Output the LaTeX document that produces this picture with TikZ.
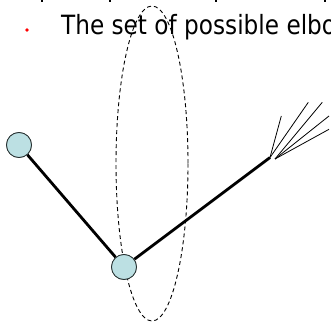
\documentclass[tikz,border=0pt]{standalone}
\usepackage{fontspec}
\setmainfont{DejaVu Sans}
\definecolor{jointfill}{RGB}{188,224,227}
\definecolor{jointedge}{RGB}{40,50,50}
\begin{document}
\begin{tikzpicture}[x=1pt,y=-1pt,
  joint/.style={circle,draw=jointedge,line width=0.8pt,fill=jointfill,minimum size=25pt,inner sep=0pt},
  limb/.style={line width=2.8pt,black},
  finger/.style={line width=0.8pt,black},
  reach/.style={line width=0.9pt,dash pattern=on 4pt off 3pt,black}]
\useasboundingbox (0,0) rectangle (331,323);
\clip (0,0) rectangle (331,323);
% descenders of the line above
\foreach \px in {42,110,216,325}
  \fill (\px-0.8,0) rectangle (\px+0.8,2.2);
% bullet and text
\fill[red] (27,30) circle (1.8);
\node[anchor=base west,inner sep=0pt,xscale=0.875,font=\fontsize{26.5}{30}\selectfont] (txt) at (61,35) {The set of possible elbow};
% set of reachable elbow positions
\draw[reach] (152,163.5) ellipse [x radius=36, y radius=157.5];
% arm
\node[joint] (shoulder) at (19,145) {};
\node[joint] (elbow) at (124,267) {};
\coordinate (wristA) at (270,157.5);
\coordinate (wristB) at (275,159);
\draw[limb] (shoulder) -- (elbow);
\draw[limb] (elbow) -- (wristA);
% fingers
\coordinate (f1) at (281.3,116);
\coordinate (f2) at (308.3,102.3);
\coordinate (f3) at (322.3,102.3);
\coordinate (f4) at (329,116);
\coordinate (f5) at (329,129.3);
\draw[finger] (wristA) -- (f1);
\draw[finger] (wristA) -- (f2);
\draw[finger] (wristB) -- (f3);
\draw[finger] (wristB) -- (f4);
\draw[finger] (wristB) -- (f5);
\node[joint] at (shoulder) {};
\node[joint] at (elbow) {};
\end{tikzpicture}
\end{document}
